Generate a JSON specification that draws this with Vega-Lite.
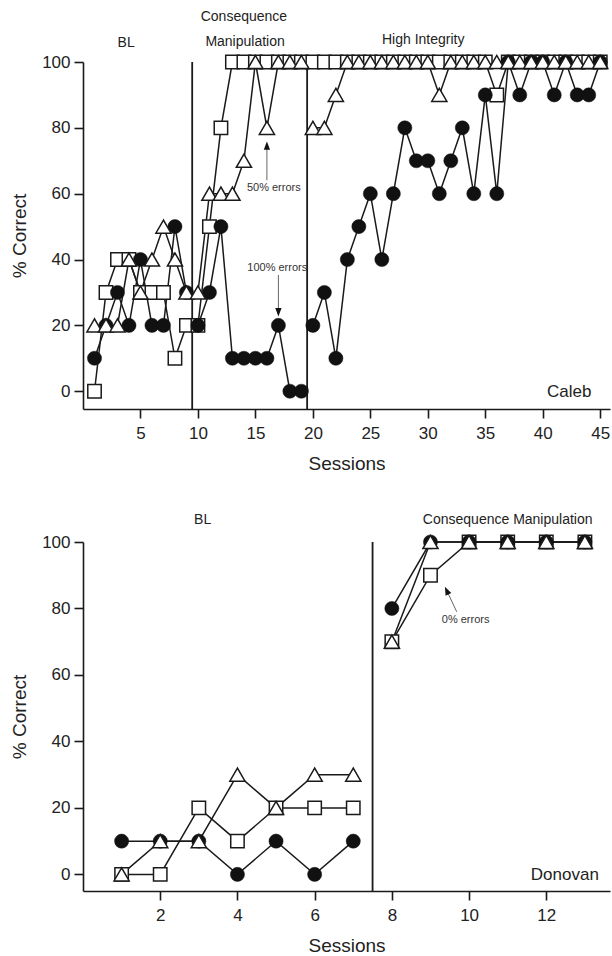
{
  "$schema": "https://vega.github.io/schema/vega-lite/v6.json",
  "padding": {"left": 10, "top": 10, "right": 0, "bottom": 0},
  "spacing": 40,
  "config": {
    "font": "Liberation Sans",
    "view": {"stroke": null},
    "axis": {
      "grid": false,
      "domainColor": "#1a1a1a",
      "domainWidth": 1.6,
      "tickColor": "#1a1a1a",
      "tickWidth": 1.6,
      "tickSize": 9,
      "labelFontSize": 17,
      "labelColor": "#222",
      "labelPadding": 4,
      "titleFontSize": 19,
      "titleFontWeight": "normal",
      "titleColor": "#222"
    },
    "axisX": {"labelPadding": 7, "titlePadding": 13}
  },
  "datasets": {
    "caleb": [
      {"s":1,"k":"sq","v":0,"p":1},{"s":2,"k":"sq","v":30,"p":1},{"s":3,"k":"sq","v":40,"p":1},{"s":4,"k":"sq","v":40,"p":1},{"s":5,"k":"sq","v":30,"p":1},{"s":6,"k":"sq","v":30,"p":1},{"s":7,"k":"sq","v":30,"p":1},{"s":8,"k":"sq","v":10,"p":1},{"s":9,"k":"sq","v":20,"p":1},
      {"s":10,"k":"sq","v":20,"p":2},{"s":11,"k":"sq","v":50,"p":2},{"s":12,"k":"sq","v":80,"p":2},{"s":13,"k":"sq","v":100,"p":2},{"s":14,"k":"sq","v":100,"p":2},{"s":15,"k":"sq","v":100,"p":2},{"s":16,"k":"sq","v":100,"p":2},{"s":17,"k":"sq","v":100,"p":2},{"s":18,"k":"sq","v":100,"p":2},{"s":19,"k":"sq","v":100,"p":2},
      {"s":20,"k":"sq","v":100,"p":3},{"s":21,"k":"sq","v":100,"p":3},{"s":22,"k":"sq","v":100,"p":3},{"s":23,"k":"sq","v":100,"p":3},{"s":24,"k":"sq","v":100,"p":3},{"s":25,"k":"sq","v":100,"p":3},{"s":26,"k":"sq","v":100,"p":3},{"s":27,"k":"sq","v":100,"p":3},{"s":28,"k":"sq","v":100,"p":3},{"s":29,"k":"sq","v":100,"p":3},{"s":30,"k":"sq","v":100,"p":3},{"s":31,"k":"sq","v":100,"p":3},{"s":32,"k":"sq","v":100,"p":3},{"s":33,"k":"sq","v":100,"p":3},{"s":34,"k":"sq","v":100,"p":3},{"s":35,"k":"sq","v":100,"p":3},{"s":36,"k":"sq","v":90,"p":3},{"s":37,"k":"sq","v":100,"p":3},{"s":38,"k":"sq","v":100,"p":3},{"s":39,"k":"sq","v":100,"p":3},{"s":40,"k":"sq","v":100,"p":3},{"s":41,"k":"sq","v":100,"p":3},{"s":42,"k":"sq","v":100,"p":3},{"s":43,"k":"sq","v":100,"p":3},{"s":44,"k":"sq","v":100,"p":3},{"s":45,"k":"sq","v":100,"p":3},
      {"s":1,"k":"ci","v":10,"p":1},{"s":2,"k":"ci","v":20,"p":1},{"s":3,"k":"ci","v":30,"p":1},{"s":4,"k":"ci","v":20,"p":1},{"s":5,"k":"ci","v":40,"p":1},{"s":6,"k":"ci","v":20,"p":1},{"s":7,"k":"ci","v":20,"p":1},{"s":8,"k":"ci","v":50,"p":1},{"s":9,"k":"ci","v":30,"p":1},
      {"s":10,"k":"ci","v":20,"p":2},{"s":11,"k":"ci","v":30,"p":2},{"s":12,"k":"ci","v":50,"p":2},{"s":13,"k":"ci","v":10,"p":2},{"s":14,"k":"ci","v":10,"p":2},{"s":15,"k":"ci","v":10,"p":2},{"s":16,"k":"ci","v":10,"p":2},{"s":17,"k":"ci","v":20,"p":2},{"s":18,"k":"ci","v":0,"p":2},{"s":19,"k":"ci","v":0,"p":2},
      {"s":20,"k":"ci","v":20,"p":3},{"s":21,"k":"ci","v":30,"p":3},{"s":22,"k":"ci","v":10,"p":3},{"s":23,"k":"ci","v":40,"p":3},{"s":24,"k":"ci","v":50,"p":3},{"s":25,"k":"ci","v":60,"p":3},{"s":26,"k":"ci","v":40,"p":3},{"s":27,"k":"ci","v":60,"p":3},{"s":28,"k":"ci","v":80,"p":3},{"s":29,"k":"ci","v":70,"p":3},{"s":30,"k":"ci","v":70,"p":3},{"s":31,"k":"ci","v":60,"p":3},{"s":32,"k":"ci","v":70,"p":3},{"s":33,"k":"ci","v":80,"p":3},{"s":34,"k":"ci","v":60,"p":3},{"s":35,"k":"ci","v":90,"p":3},{"s":36,"k":"ci","v":60,"p":3},{"s":37,"k":"ci","v":100,"p":3},{"s":38,"k":"ci","v":90,"p":3},{"s":39,"k":"ci","v":100,"p":3},{"s":40,"k":"ci","v":100,"p":3},{"s":41,"k":"ci","v":90,"p":3},{"s":42,"k":"ci","v":100,"p":3},{"s":43,"k":"ci","v":90,"p":3},{"s":44,"k":"ci","v":90,"p":3},{"s":45,"k":"ci","v":100,"p":3},
      {"s":1,"k":"tr","v":20,"p":1},{"s":2,"k":"tr","v":20,"p":1},{"s":3,"k":"tr","v":20,"p":1},{"s":4,"k":"tr","v":40,"p":1},{"s":5,"k":"tr","v":30,"p":1},{"s":6,"k":"tr","v":40,"p":1},{"s":7,"k":"tr","v":50,"p":1},{"s":8,"k":"tr","v":40,"p":1},{"s":9,"k":"tr","v":30,"p":1},
      {"s":10,"k":"tr","v":30,"p":2},{"s":11,"k":"tr","v":60,"p":2},{"s":12,"k":"tr","v":60,"p":2},{"s":13,"k":"tr","v":60,"p":2},{"s":14,"k":"tr","v":70,"p":2},{"s":15,"k":"tr","v":100,"p":2},{"s":16,"k":"tr","v":80,"p":2},{"s":17,"k":"tr","v":100,"p":2},{"s":18,"k":"tr","v":100,"p":2},{"s":19,"k":"tr","v":100,"p":2},
      {"s":20,"k":"tr","v":80,"p":3},{"s":21,"k":"tr","v":80,"p":3},{"s":22,"k":"tr","v":90,"p":3},{"s":23,"k":"tr","v":100,"p":3},{"s":24,"k":"tr","v":100,"p":3},{"s":25,"k":"tr","v":100,"p":3},{"s":26,"k":"tr","v":100,"p":3},{"s":27,"k":"tr","v":100,"p":3},{"s":28,"k":"tr","v":100,"p":3},{"s":29,"k":"tr","v":100,"p":3},{"s":30,"k":"tr","v":100,"p":3},{"s":31,"k":"tr","v":90,"p":3},{"s":32,"k":"tr","v":100,"p":3},{"s":33,"k":"tr","v":100,"p":3},{"s":34,"k":"tr","v":100,"p":3},{"s":35,"k":"tr","v":100,"p":3},{"s":36,"k":"tr","v":100,"p":3},{"s":37,"k":"tr","v":100,"p":3},{"s":38,"k":"tr","v":100,"p":3},{"s":39,"k":"tr","v":100,"p":3},{"s":40,"k":"tr","v":100,"p":3},{"s":41,"k":"tr","v":100,"p":3},{"s":42,"k":"tr","v":100,"p":3},{"s":43,"k":"tr","v":100,"p":3},{"s":44,"k":"tr","v":100,"p":3},{"s":45,"k":"tr","v":100,"p":3}
    ],
    "donovan": [
      {"s":1,"k":"sq","v":0,"p":1},{"s":2,"k":"sq","v":0,"p":1},{"s":3,"k":"sq","v":20,"p":1},{"s":4,"k":"sq","v":10,"p":1},{"s":5,"k":"sq","v":20,"p":1},{"s":6,"k":"sq","v":20,"p":1},{"s":7,"k":"sq","v":20,"p":1},
      {"s":8,"k":"sq","v":70,"p":2},{"s":9,"k":"sq","v":90,"p":2},{"s":10,"k":"sq","v":100,"p":2},{"s":11,"k":"sq","v":100,"p":2},{"s":12,"k":"sq","v":100,"p":2},{"s":13,"k":"sq","v":100,"p":2},
      {"s":1,"k":"ci","v":10,"p":1},{"s":2,"k":"ci","v":10,"p":1},{"s":3,"k":"ci","v":10,"p":1},{"s":4,"k":"ci","v":0,"p":1},{"s":5,"k":"ci","v":10,"p":1},{"s":6,"k":"ci","v":0,"p":1},{"s":7,"k":"ci","v":10,"p":1},
      {"s":8,"k":"ci","v":80,"p":2},{"s":9,"k":"ci","v":100,"p":2},{"s":10,"k":"ci","v":100,"p":2},{"s":11,"k":"ci","v":100,"p":2},{"s":12,"k":"ci","v":100,"p":2},{"s":13,"k":"ci","v":100,"p":2},
      {"s":1,"k":"tr","v":0,"p":1},{"s":2,"k":"tr","v":10,"p":1},{"s":3,"k":"tr","v":10,"p":1},{"s":4,"k":"tr","v":30,"p":1},{"s":5,"k":"tr","v":20,"p":1},{"s":6,"k":"tr","v":30,"p":1},{"s":7,"k":"tr","v":30,"p":1},
      {"s":8,"k":"tr","v":70,"p":2},{"s":9,"k":"tr","v":100,"p":2},{"s":10,"k":"tr","v":100,"p":2},{"s":11,"k":"tr","v":100,"p":2},{"s":12,"k":"tr","v":100,"p":2},{"s":13,"k":"tr","v":100,"p":2}
    ],
    "calebPhase": [{"x": 9.5}, {"x": 19.5}],
    "donovanPhase": [{"x": 7.5}],
    "calebLabels": [
      {"x": 3.75, "y": 105.7, "t": "BL"},
      {"x": 14.0, "y": 113.6, "t": "Consequence"},
      {"x": 14.1, "y": 106.2, "t": "Manipulation"},
      {"x": 29.6, "y": 106.8, "t": "High Integrity"}
    ],
    "calebNames": [{"x": 42.3, "y": -0.2, "t": "Caleb"}],
    "calebNotes": [
      {"x": 16.6, "y": 61.6, "t": "50% errors"},
      {"x": 16.9, "y": 37.4, "t": "100% errors"}
    ],
    "calebArrows": [
      {"x": 16.0, "y": 64.1, "x2": 16.0, "y2": 74.0, "hx": 16.0, "hy": 74.6, "a": 0},
      {"x": 17.0, "y": 35.3, "x2": 17.0, "y2": 24.5, "hx": 17.0, "hy": 24.0, "a": 180}
    ],
    "donovanLabels": [
      {"x": 3.1, "y": 106.5, "t": "BL"},
      {"x": 11.0, "y": 106.5, "t": "Consequence Manipulation"}
    ],
    "donovanNames": [{"x": 12.48, "y": -0.2, "t": "Donovan"}],
    "donovanNotes": [{"x": 9.91, "y": 76.6, "t": "0% errors"}],
    "donovanArrows": [
      {"x": 9.68, "y": 79.0, "x2": 9.43, "y2": 85.2, "hx": 9.42, "hy": 85.4, "a": -25}
    ]
  },
  "vconcat": [
    {
      "width": 527,
      "height": 347,
      "layer": [
        {
          "data": {"name": "calebPhase"},
          "mark": {"type": "rule", "color": "#1a1a1a", "strokeWidth": 1.8},
          "encoding": {"x": {"field": "x", "type": "quantitative", "scale": {"domain": [0, 45.85], "nice": false, "zero": false}}}
        },
        {
          "data": {"name": "caleb"},
          "mark": {"type": "line", "color": "#1a1a1a", "strokeWidth": 1.5},
          "encoding": {
            "x": {"field": "s", "type": "quantitative", "scale": {"domain": [0, 45.85], "nice": false, "zero": false}, "axis": {"values": [5,10,15,20,25,30,35,40,45], "title": "Sessions"}},
            "y": {"field": "v", "type": "quantitative", "scale": {"domain": [-5.4, 100], "nice": false, "zero": false}, "axis": {"values": [0,20,40,60,80,100], "title": "% Correct", "titlePadding": 12}},
            "detail": [{"field": "k"}, {"field": "p"}],
            "order": {"field": "s"}
          }
        },
        {
          "data": {"name": "caleb"},
          "transform": [{"filter": "datum.k === 'sq'"}],
          "mark": {"type": "point", "shape": "square", "size": 180, "filled": true, "fill": "white", "stroke": "#1a1a1a", "strokeWidth": 1.5, "opacity": 1},
          "encoding": {"x": {"field": "s", "type": "quantitative"}, "y": {"field": "v", "type": "quantitative"}}
        },
        {
          "data": {"name": "caleb"},
          "transform": [{"filter": "datum.k === 'ci'"}],
          "mark": {"type": "point", "shape": "circle", "size": 200, "filled": true, "fill": "#111", "stroke": "#111", "strokeWidth": 0.5, "opacity": 1},
          "encoding": {"x": {"field": "s", "type": "quantitative"}, "y": {"field": "v", "type": "quantitative"}}
        },
        {
          "data": {"name": "caleb"},
          "transform": [{"filter": "datum.k === 'tr'"}],
          "mark": {"type": "point", "shape": "triangle-up", "size": 230, "filled": true, "fill": "white", "stroke": "#1a1a1a", "strokeWidth": 1.5, "opacity": 1},
          "encoding": {"x": {"field": "s", "type": "quantitative"}, "y": {"field": "v", "type": "quantitative"}}
        },
        {
          "data": {"name": "calebArrows"},
          "mark": {"type": "rule", "color": "#666", "strokeWidth": 1},
          "encoding": {"x": {"field": "x", "type": "quantitative"}, "y": {"field": "y", "type": "quantitative"}, "x2": {"field": "x2"}, "y2": {"field": "y2"}}
        },
        {
          "data": {"name": "calebArrows"},
          "mark": {"type": "point", "shape": "M0,-1L0.75,1L-0.75,1Z", "size": 70, "filled": true, "fill": "#111", "opacity": 1},
          "encoding": {"x": {"field": "hx", "type": "quantitative"}, "y": {"field": "hy", "type": "quantitative"}, "angle": {"field": "a", "type": "quantitative", "scale": null}}
        },
        {
          "data": {"name": "calebLabels"},
          "mark": {"type": "text", "fontSize": 14, "color": "#222", "baseline": "middle", "align": "center"},
          "encoding": {"x": {"field": "x", "type": "quantitative"}, "y": {"field": "y", "type": "quantitative"}, "text": {"field": "t"}}
        },
        {
          "data": {"name": "calebNames"},
          "mark": {"type": "text", "fontSize": 17, "color": "#222", "baseline": "middle", "align": "center"},
          "encoding": {"x": {"field": "x", "type": "quantitative"}, "y": {"field": "y", "type": "quantitative"}, "text": {"field": "t"}}
        },
        {
          "data": {"name": "calebNotes"},
          "mark": {"type": "text", "fontSize": 11, "color": "#333", "baseline": "middle", "align": "center"},
          "encoding": {"x": {"field": "x", "type": "quantitative"}, "y": {"field": "y", "type": "quantitative"}, "text": {"field": "t"}}
        }
      ]
    },
    {
      "width": 527,
      "height": 349,
      "layer": [
        {
          "data": {"name": "donovanPhase"},
          "mark": {"type": "rule", "color": "#1a1a1a", "strokeWidth": 1.8},
          "encoding": {"x": {"field": "x", "type": "quantitative", "scale": {"domain": [0, 13.65], "nice": false, "zero": false}}}
        },
        {
          "data": {"name": "donovan"},
          "mark": {"type": "line", "color": "#1a1a1a", "strokeWidth": 1.5},
          "encoding": {
            "x": {"field": "s", "type": "quantitative", "scale": {"domain": [0, 13.65], "nice": false, "zero": false}, "axis": {"values": [2,4,6,8,10,12], "title": "Sessions"}},
            "y": {"field": "v", "type": "quantitative", "scale": {"domain": [-5, 100], "nice": false, "zero": false}, "axis": {"values": [0,20,40,60,80,100], "title": "% Correct", "titlePadding": 12}},
            "detail": [{"field": "k"}, {"field": "p"}],
            "order": {"field": "s"}
          }
        },
        {
          "data": {"name": "donovan"},
          "transform": [{"filter": "datum.k === 'sq'"}],
          "mark": {"type": "point", "shape": "square", "size": 180, "filled": true, "fill": "white", "stroke": "#1a1a1a", "strokeWidth": 1.5, "opacity": 1},
          "encoding": {"x": {"field": "s", "type": "quantitative"}, "y": {"field": "v", "type": "quantitative"}}
        },
        {
          "data": {"name": "donovan"},
          "transform": [{"filter": "datum.k === 'ci'"}],
          "mark": {"type": "point", "shape": "circle", "size": 200, "filled": true, "fill": "#111", "stroke": "#111", "strokeWidth": 0.5, "opacity": 1},
          "encoding": {"x": {"field": "s", "type": "quantitative"}, "y": {"field": "v", "type": "quantitative"}}
        },
        {
          "data": {"name": "donovan"},
          "transform": [{"filter": "datum.k === 'tr'"}],
          "mark": {"type": "point", "shape": "triangle-up", "size": 230, "filled": true, "fill": "white", "stroke": "#1a1a1a", "strokeWidth": 1.5, "opacity": 1},
          "encoding": {"x": {"field": "s", "type": "quantitative"}, "y": {"field": "v", "type": "quantitative"}}
        },
        {
          "data": {"name": "donovanArrows"},
          "mark": {"type": "rule", "color": "#666", "strokeWidth": 1},
          "encoding": {"x": {"field": "x", "type": "quantitative"}, "y": {"field": "y", "type": "quantitative"}, "x2": {"field": "x2"}, "y2": {"field": "y2"}}
        },
        {
          "data": {"name": "donovanArrows"},
          "mark": {"type": "point", "shape": "M0,-1L0.75,1L-0.75,1Z", "size": 70, "filled": true, "fill": "#111", "opacity": 1},
          "encoding": {"x": {"field": "hx", "type": "quantitative"}, "y": {"field": "hy", "type": "quantitative"}, "angle": {"field": "a", "type": "quantitative", "scale": null}}
        },
        {
          "data": {"name": "donovanLabels"},
          "mark": {"type": "text", "fontSize": 14, "color": "#222", "baseline": "middle", "align": "center"},
          "encoding": {"x": {"field": "x", "type": "quantitative"}, "y": {"field": "y", "type": "quantitative"}, "text": {"field": "t"}}
        },
        {
          "data": {"name": "donovanNames"},
          "mark": {"type": "text", "fontSize": 17, "color": "#222", "baseline": "middle", "align": "center"},
          "encoding": {"x": {"field": "x", "type": "quantitative"}, "y": {"field": "y", "type": "quantitative"}, "text": {"field": "t"}}
        },
        {
          "data": {"name": "donovanNotes"},
          "mark": {"type": "text", "fontSize": 11, "color": "#333", "baseline": "middle", "align": "center"},
          "encoding": {"x": {"field": "x", "type": "quantitative"}, "y": {"field": "y", "type": "quantitative"}, "text": {"field": "t"}}
        }
      ]
    }
  ]
}
